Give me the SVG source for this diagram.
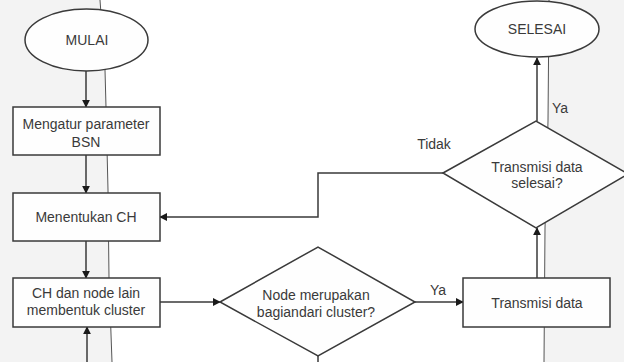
<svg xmlns="http://www.w3.org/2000/svg" width="624" height="362" viewBox="0 0 624 362">
<style>
.shape{fill:#fefefe;stroke:#3a3a3a;stroke-width:1.5}
.edge{fill:none;stroke:#3a3a3a;stroke-width:1.5}
.page{fill:none;stroke:#555;stroke-width:1}
text{font-family:"Liberation Sans",Arial,sans-serif;font-size:14px;fill:#3a3a3a;text-anchor:middle}
</style>
<defs>
<marker id="arr" viewBox="0 0 10 10" refX="9" refY="5" markerWidth="8" markerHeight="8" markerUnits="userSpaceOnUse" orient="auto">
<path d="M0,0 L10,5 L0,10 z" fill="#1a1a1a"/>
</marker>
</defs>
<rect width="624" height="362" fill="#ffffff"/>
<g id="page">
<polygon points="0,0 100,0 105,70 106,107 108,190 109,278 112,362 0,362" fill="#f3f3f3"/>
<polygon points="549,0 624,0 624,362 544,362 545,228 548,121" fill="#f3f3f3"/>
<polyline class="page" points="100,0 105,70 106,107 108,190 109,278 112,362"/>
<polyline class="page" points="549,0 548,121 545,228 544,362"/>
</g>
<g id="connectors">
<line class="edge" x1="86" y1="71" x2="86" y2="107" marker-end="url(#arr)"/>
<line class="edge" x1="86" y1="155" x2="86" y2="193" marker-end="url(#arr)"/>
<line class="edge" x1="86" y1="241" x2="86" y2="278" marker-end="url(#arr)"/>
<line class="edge" x1="87" y1="362" x2="87" y2="327" marker-end="url(#arr)"/>
<line class="edge" x1="160" y1="302" x2="220" y2="302" marker-end="url(#arr)"/>
<line class="edge" x1="415" y1="302" x2="463" y2="302" marker-end="url(#arr)"/>
<line class="edge" x1="537" y1="278" x2="537" y2="228" marker-end="url(#arr)"/>
<line class="edge" x1="537" y1="121" x2="537" y2="58" marker-end="url(#arr)"/>
<polyline class="edge" points="443,173 318,173 318,217 160,217" marker-end="url(#arr)"/>
<line class="edge" x1="318" y1="356" x2="318" y2="362"/>
<text x="438" y="295">Ya</text>
<text x="560" y="113">Ya</text>
<text x="434" y="149">Tidak</text>
</g>
<g id="mulai">
<ellipse class="shape" cx="86.5" cy="40" rx="61.5" ry="31"/>
<text x="87" y="45">MULAI</text>
</g>
<g id="mengatur">
<rect class="shape" x="13" y="107" width="147" height="48"/>
<text x="86" y="129">Mengatur parameter</text>
<text x="86" y="147">BSN</text>
</g>
<g id="menentukan">
<rect class="shape" x="13" y="193" width="147" height="48"/>
<text x="86" y="222">Menentukan CH</text>
</g>
<g id="cluster">
<rect class="shape" x="13" y="278" width="147" height="49"/>
<text x="86" y="298">CH dan node lain</text>
<text x="86" y="315">membentuk cluster</text>
</g>
<g id="decision1">
<polygon class="shape" points="220,302 318,247 415,302 318,356"/>
<text x="316" y="300">Node merupakan</text>
<text x="316" y="317">bagiandari cluster?</text>
</g>
<g id="transmisi">
<rect class="shape" x="463" y="278" width="147" height="49"/>
<text x="537" y="308">Transmisi data</text>
</g>
<g id="decision2">
<polygon class="shape" points="443,173 536,121 628,174 536,228"/>
<text x="537" y="172">Transmisi data</text>
<text x="537" y="188">selesai?</text>
</g>
<g id="selesai">
<ellipse class="shape" cx="537" cy="29" rx="62" ry="28"/>
<text x="537" y="34">SELESAI</text>
</g>
</svg>
